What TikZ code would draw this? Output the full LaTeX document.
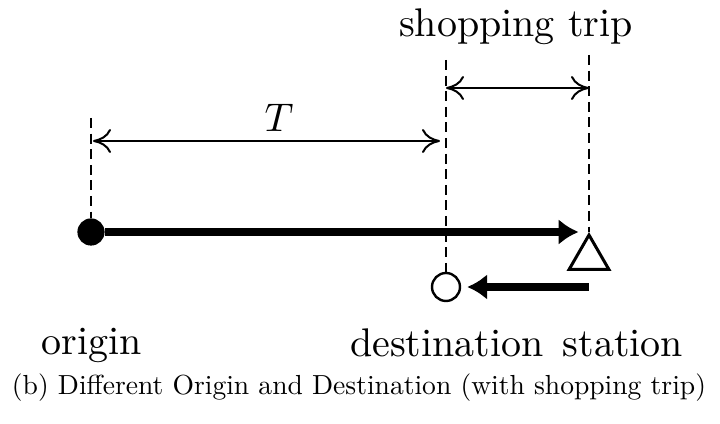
\documentclass[tikz,border=0pt]{standalone}
\usepackage{graphicx}
\usetikzlibrary{arrows.meta,shapes.geometric}
\begin{document}
\begin{tikzpicture}[x=0.25pt,y=-0.25pt,
  guide/.style={line width=0.5pt,dash pattern=on 2.5pt off 1.4pt},
  span/.style={line width=0.5pt,{Computer Modern Rightarrow[length=4.5pt,width=6pt]}-{Computer Modern Rightarrow[length=4.5pt,width=6pt]}},
  leg/.style={line width=2.2pt,-{Latex[length=5pt,width=6.5pt]}},
  lbl/.style={anchor=base,inner sep=0pt,font=\fontsize{10}{12}\selectfont},
  every node/.style={inner sep=0pt}]
\useasboundingbox (0,0) rectangle (720,424);

% places on the line
\node[circle,fill=black,minimum size=6.8pt] (org) at (91,232) {};
\node[circle,draw,line width=0.6pt,minimum size=7pt] (dst) at (446,287) {};
\node[regular polygon,regular polygon sides=3,draw,line width=0.75pt,
      minimum size=11.5pt] (sta) at (589,258) {};

% tops of the dashed guides
\coordinate (gO) at (91,118);
\coordinate (gD) at (446,60);
\coordinate (gS) at (589,55);

\draw[guide] (gO) -- (org.north);
\draw[guide] (gD) -- (dst.north);
\draw[guide] (gS) -- (sta.corner 1);

% dimension arrows
\coordinate (tL) at (91,141);
\coordinate (tR) at (446,141);
\coordinate (sL) at (446,88);
\coordinate (sR) at (589,88);
\draw[span,shorten <=0.5pt,shorten >=1.5pt] (tL) -- (tR);
\draw[span] (sL) -- (sR);

% the trips
\draw[leg,shorten >=2.6pt] (org) -- (org -| sta.corner 1);
\draw[leg,shorten >=1.5pt] (dst -| sta.corner 1) -- (dst);

% labels
\node[lbl] (lT) at (279,132) {$T$};
\node[lbl] (lS) at (516,37) {shopping trip};
\node[lbl] (lO) at (92,355) {origin};
\node[lbl] (lD) at (447,357) {destination};
\node[lbl] (lSt) at (623,357) {station};
\node[anchor=base,font=\fontsize{10}{12}\selectfont] (cap) at (359,395)
  {\resizebox{173.5pt}{!}{(b) Different Origin and Destination (with shopping trip)}};
\end{tikzpicture}
\end{document}
